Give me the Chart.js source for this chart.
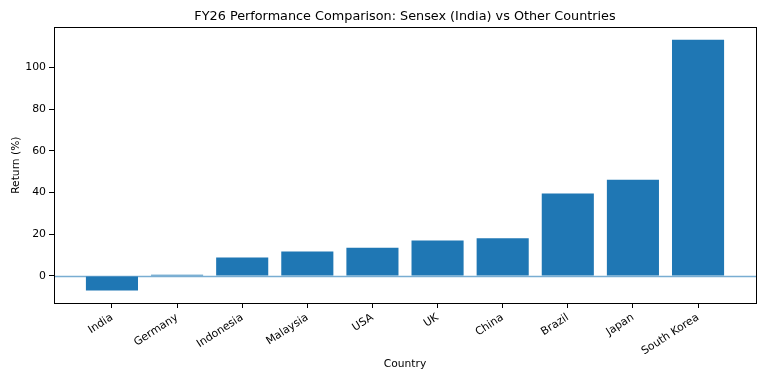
<!DOCTYPE html>
<html>
<head>
<meta charset="utf-8">
<script src="https://cdn.jsdelivr.net/npm/chart.js@4"></script>
<style>
html,body{margin:0;padding:0;background:#fff;}
#wrap{width:768px;height:382px;position:relative;}
</style>
</head>
<body>
<div id="wrap"><canvas id="c" width="768" height="382"></canvas></div>
<script>
const categories = ["India","Germany","Indonesia","Malaysia","USA","UK","China","Brazil","Japan","South Korea"];
const returns = [-7.0, 0.6, 8.8, 11.7, 13.5, 17.0, 18.1, 39.6, 46.2, 113.3];
const yTicks = [0, 20, 40, 60, 80, 100];

const FONT = "'DejaVu Sans', sans-serif";
const barColor = '#1f77b4';

const boxPlugin = {
  id: 'box',
  afterDatasetsDraw(chart) {
    const {ctx, chartArea: a, scales} = chart;
    ctx.save();
    const y0 = Math.round(scales.y.getPixelForValue(0)) + 0.5;
    ctx.strokeStyle = 'rgba(31,119,180,0.6)';
    ctx.lineWidth = 1.3;
    ctx.beginPath();
    ctx.moveTo(a.left, y0);
    ctx.lineTo(a.right, y0);
    ctx.stroke();
    ctx.strokeStyle = '#000';
    ctx.lineWidth = 1;
    ctx.strokeRect(Math.round(a.left) + 0.5, Math.round(a.top) + 0.5,
                   Math.round(a.right - a.left), Math.round(a.bottom - a.top));
    ctx.restore();
  }
};

new Chart(document.getElementById('c'), {
  type: 'bar',
  data: {
    datasets: [{
      data: returns.map((v, i) => ({x: i, y: v})),
      backgroundColor: barColor,
      borderWidth: 0,
      categoryPercentage: 0.8,
      barPercentage: 1.0
    }]
  },
  options: {
    responsive: false,
    animation: false,
    layout: {padding: {left: 0, right: 12, top: 0, bottom: 0}},
    plugins: {
      legend: {display: false},
      tooltip: {enabled: false},
      title: {
        display: true,
        fullSize: false,
        text: 'FY26 Performance Comparison: Sensex (India) vs Other Countries',
        color: '#000',
        font: {family: FONT, size: 12.8, weight: 'normal'},
        padding: {top: 9, bottom: 3}
      }
    },
    scales: {
      x: {
        type: 'linear',
        offset: false,
        min: -0.89,
        max: 9.89,
        afterBuildTicks(scale) {
          scale.ticks = categories.map((c, i) => ({value: i}));
        },
        ticks: {
          callback: (v) => categories[v],
          color: '#000',
          font: {family: FONT, size: 10.9},
          maxRotation: 33,
          minRotation: 33,
          padding: 3,
          autoSkip: false
        },
        grid: {display: true, offset: false, drawOnChartArea: false, drawTicks: true, tickLength: 5, color: '#000'},
        border: {display: true, color: '#000'},
        title: {display: true, text: 'Country', color: '#000', font: {family: FONT, size: 10.7}, padding: {top: 4, bottom: 11}},
        afterFit(scale) { scale.height = 79; }
      },
      y: {
        min: -13.0,
        max: 119.3,
        afterBuildTicks(scale) {
          scale.ticks = yTicks.map(v => ({value: v}));
        },
        ticks: {
          color: '#000',
          font: {family: FONT, size: 10.9},
          padding: 3
        },
        grid: {display: true, drawOnChartArea: false, drawTicks: true, tickLength: 5, color: '#000'},
        border: {display: true, color: '#000'},
        title: {display: true, text: 'Return (%)', color: '#000', font: {family: FONT, size: 10.7}, padding: {top: 10, bottom: 0}},
        afterFit(scale) { scale.width = 54; }
      }
    }
  },
  plugins: [boxPlugin]
});
</script>
</body>
</html>
